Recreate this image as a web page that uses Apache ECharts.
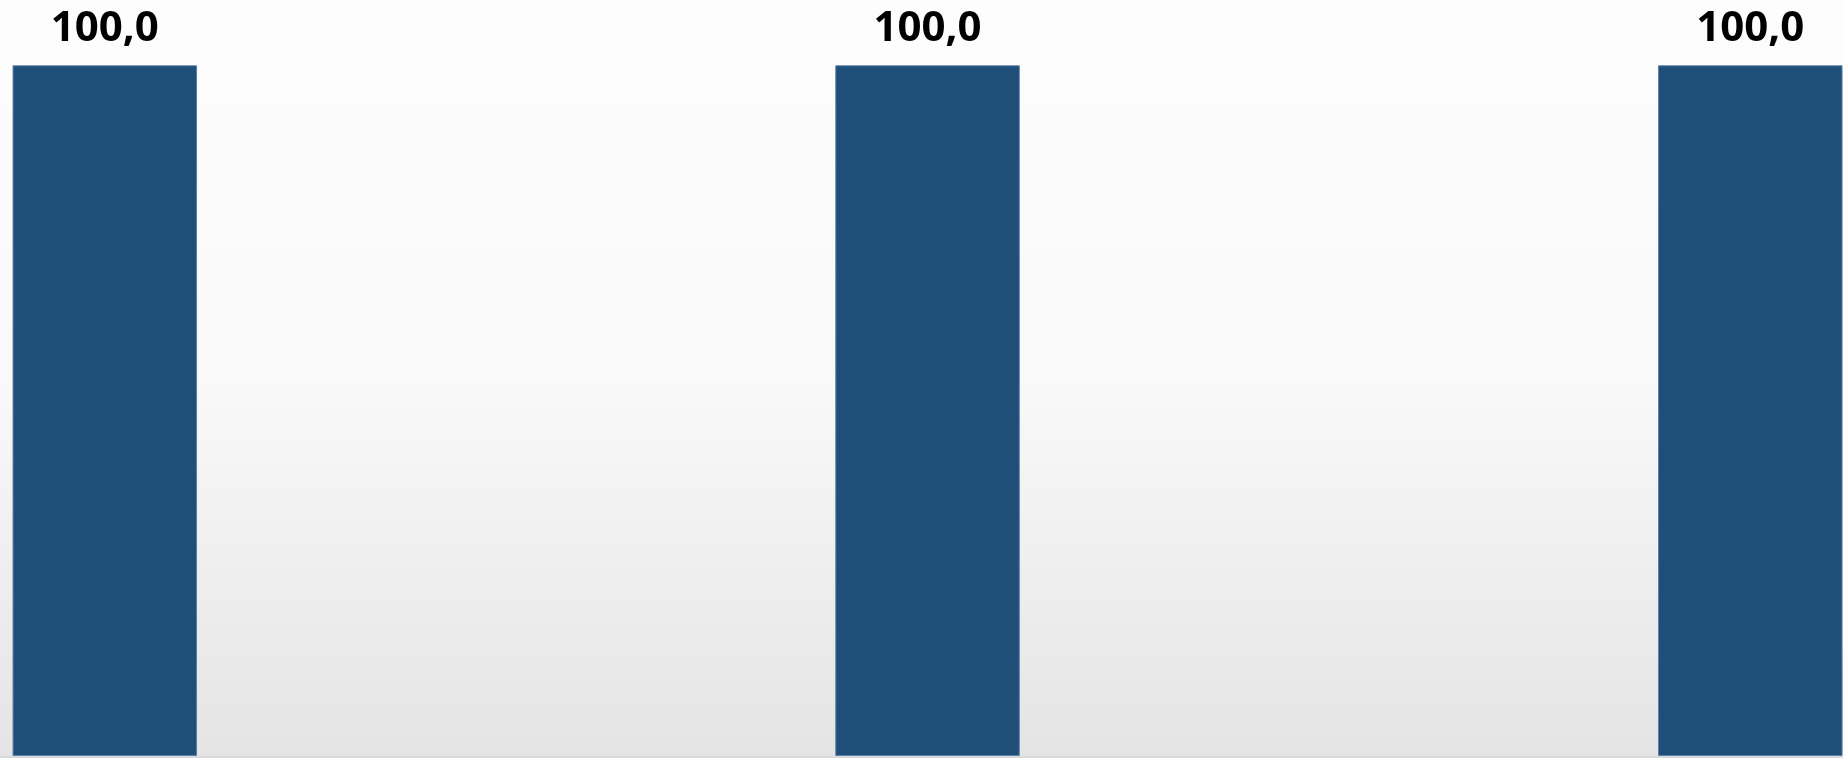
<!DOCTYPE html>
<html>
<head>
<meta charset="utf-8">
<style>
html,body{margin:0;padding:0;background:#fff;}
#chart{width:1843px;height:758px;}
</style>
<script src="https://cdn.jsdelivr.net/npm/echarts@6/dist/echarts.min.js"></script>
</head>
<body>
<div id="chart"></div>
<script>
const categories = ['A', 'B', 'C'];
const values = [100.0, 100.0, 100.0];

const chart = echarts.init(document.getElementById('chart'), null, {renderer: 'canvas'});
chart.setOption({
  animation: false,
  backgroundColor: new echarts.graphic.LinearGradient(0, 0, 0, 1, [
    {offset: 0, color: '#fdfdfd'},
    {offset: 0.5, color: '#f9f9f9'},
    {offset: 1, color: '#e4e4e4'}
  ]),
  grid: {left: 104.8, right: 92.7, top: 65.3, bottom: 2, containLabel: false},
  xAxis: {
    type: 'category',
    data: categories,
    boundaryGap: false,
    axisLine: {show: false},
    axisTick: {show: false},
    axisLabel: {show: false},
    splitLine: {show: false}
  },
  yAxis: {
    type: 'value',
    min: 0,
    max: 100,
    show: false,
    splitLine: {show: false}
  },
  graphic: [{
    type: 'rect',
    left: 0,
    bottom: 0,
    shape: {width: 1843, height: 2},
    style: {fill: '#d9d9d9'},
    silent: true
  }],
  series: [{
    type: 'bar',
    data: values,
    barWidth: 184.5,
    clip: false,
    itemStyle: {color: '#1f4e79', borderColor: '#5b80a6', borderWidth: 1},
    label: {
      show: true,
      position: 'top',
      distance: 15,
      formatter: p => p.value.toFixed(1).replace('.', ','),
      fontFamily: 'Open Sans',
      fontWeight: 'bold',
      fontSize: 42,
      color: '#000'
    }
  }]
});
</script>
</body>
</html>
